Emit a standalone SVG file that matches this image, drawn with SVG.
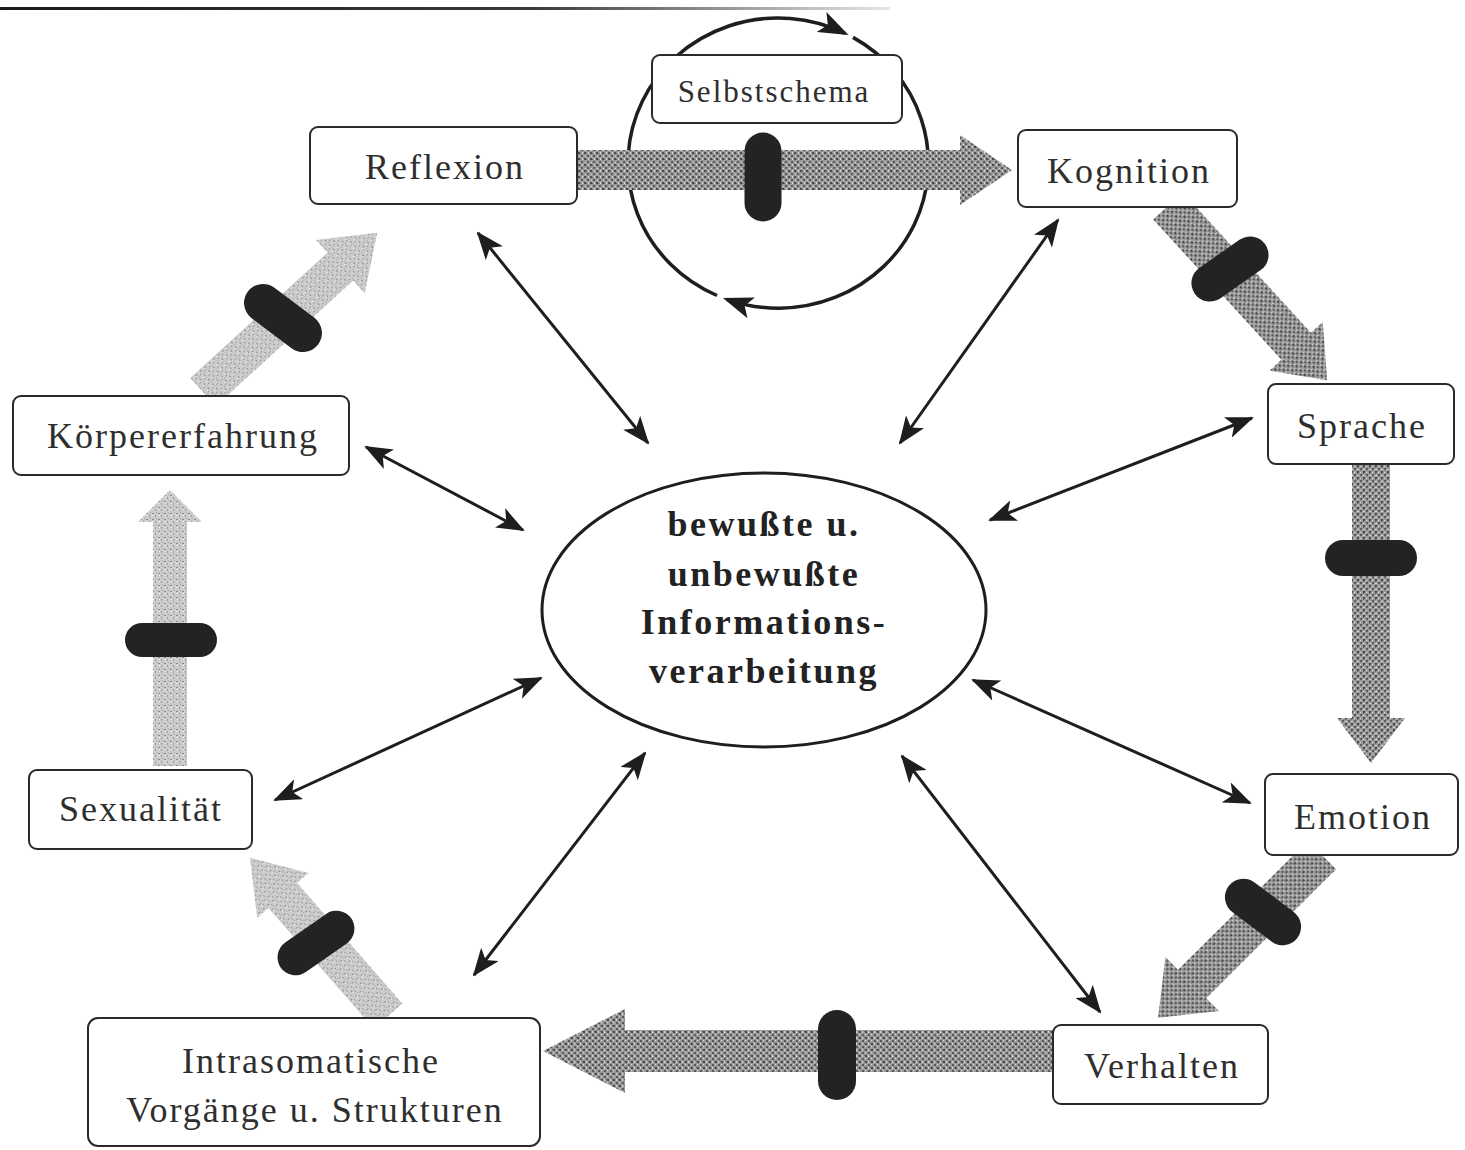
<svg xmlns="http://www.w3.org/2000/svg" width="1465" height="1150" viewBox="0 0 1465 1150">
  <style>
    .box { fill: #ffffff; stroke: #2a2a2a; stroke-width: 2; }
    .lbl { font-family: "Liberation Serif", "Times New Roman", serif; font-size: 36px; fill: #2e2e2e; text-anchor: middle; letter-spacing: 2px; }
    .ctr { font-family: "Liberation Serif", "Times New Roman", serif; font-size: 36px; font-weight: bold; fill: #222; text-anchor: middle; letter-spacing: 2.5px; }
    .thin { stroke: #1e1e1e; stroke-width: 3; fill: none; marker-start: url(#ah); marker-end: url(#ah); }
    .circ { stroke: #1e1e1e; stroke-width: 3.5; fill: none; marker-end: url(#ch); }
    .thickD { fill: url(#stD); }
    .thickL { fill: url(#stL); }
    .pill { fill: #232323; }
  </style>
  <defs>
    <linearGradient id="topLine" x1="0" y1="0" x2="1" y2="0">
      <stop offset="0" stop-color="#1a1a1a"/>
      <stop offset="0.6" stop-color="#3a3a3a"/>
      <stop offset="1" stop-color="#e6e6e6"/>
    </linearGradient>
    <pattern id="stD" width="6" height="6" patternUnits="userSpaceOnUse">
      <rect width="6" height="6" fill="#9a9a9a"/>
      <rect x="0" y="0" width="2" height="2" fill="#4c4c4c"/>
      <rect x="3" y="3" width="2" height="2" fill="#5c5c5c"/>
      <rect x="4" y="0" width="1" height="2" fill="#d6d6d6"/>
      <rect x="1" y="4" width="1" height="1" fill="#e2e2e2"/>
      <rect x="2" y="1" width="1" height="1" fill="#6a6a6a"/>
    </pattern>
    <pattern id="stL" width="6" height="6" patternUnits="userSpaceOnUse">
      <rect width="6" height="6" fill="#cdcdcd"/>
      <rect x="0" y="0" width="1" height="2" fill="#8a8a8a"/>
      <rect x="3" y="3" width="2" height="1" fill="#9a9a9a"/>
      <rect x="4" y="1" width="1" height="1" fill="#eeeeee"/>
      <rect x="1" y="4" width="1" height="1" fill="#a5a5a5"/>
    </pattern>
    <marker id="ah" viewBox="0 0 28 22" refX="26" refY="11" markerWidth="28" markerHeight="22" markerUnits="userSpaceOnUse" orient="auto-start-reverse">
      <path d="M0,0 L28,11 L0,22 L7,11 z" fill="#1e1e1e"/>
    </marker>
    <marker id="ch" viewBox="0 0 30 22" refX="26" refY="11" markerWidth="30" markerHeight="22" markerUnits="userSpaceOnUse" orient="auto">
      <path d="M0,0 L30,11 L0,22 L7,11 z" fill="#1e1e1e"/>
    </marker>
  </defs>

  <rect width="1465" height="1150" fill="#ffffff"/>

  <!-- top rule -->
  <rect x="0" y="7" width="890" height="3" fill="url(#topLine)"/>

  <g id="connectors">
    <!-- Selbstschema cycle -->
    <path class="circ" d="M717,295.5 A150,145 0 1 1 845,33.3"/>
    <path class="circ" d="M853,37.4 A150,145 0 0 1 726.7,299.3"/>

    <!-- thin double-headed arrows -->
    <line class="thin" x1="478" y1="233" x2="648" y2="443"/>
    <line class="thin" x1="1058" y1="220" x2="900" y2="443"/>
    <line class="thin" x1="1252" y1="418" x2="990" y2="520"/>
    <line class="thin" x1="366" y1="447" x2="523" y2="530"/>
    <line class="thin" x1="541" y1="678" x2="275" y2="800"/>
    <line class="thin" x1="973" y1="680" x2="1250" y2="803"/>
    <line class="thin" x1="645" y1="753" x2="474" y2="975"/>
    <line class="thin" x1="902" y1="756" x2="1100" y2="1012"/>

    <!-- thick flow arrows -->
    <polygon class="thickD" transform="translate(578,170)" points="0,-20 382,-20 382,-35 434,0 382,35 382,20 0,20"/>
    <polygon class="thickD" transform="translate(1168,206) rotate(47.6)" points="0,-20 190,-20 190,-36 236,0 190,36 190,20 0,20"/>
    <polygon class="thickD" transform="translate(1371,465) rotate(90)" points="0,-19 253,-19 253,-34 298,0 253,34 253,19 0,19"/>
    <polygon class="thickD" transform="translate(1322,855) rotate(135.2)" points="0,-20 183,-20 183,-38 231,0 183,38 183,20 0,20"/>
    <polygon class="thickD" transform="translate(1053,1051) rotate(180)" points="0,-21 428,-21 428,-42 510,0 428,42 428,21 0,21"/>
    <polygon class="thickL" transform="translate(388,1016) rotate(-131.1)" points="0,-19 160,-19 160,-34 210,0 160,34 160,19 0,19"/>
    <polygon class="thickL" transform="translate(170,766) rotate(-90)" points="0,-17 244,-17 244,-32 276,0 244,32 244,17 0,17"/>
    <polygon class="thickL" transform="translate(203,392) rotate(-42.4)" points="0,-19 186,-19 186,-36 236,0 186,36 186,19 0,19"/>

    <!-- blocking pills -->
    <rect class="pill" x="-18.5" y="-44.5" width="37" height="89" rx="18.5" transform="translate(763,177)"/>
    <rect class="pill" x="-43" y="-18.5" width="86" height="37" rx="18.5" transform="translate(1230,269) rotate(-35)"/>
    <rect class="pill" x="-46" y="-18" width="92" height="36" rx="18" transform="translate(1371,558)"/>
    <rect class="pill" x="-43" y="-18.5" width="86" height="37" rx="18.5" transform="translate(1263,912) rotate(37)"/>
    <rect class="pill" x="-19" y="-45" width="38" height="90" rx="19" transform="translate(837,1055)"/>
    <rect class="pill" x="-43" y="-18" width="86" height="36" rx="18" transform="translate(316,943) rotate(-35)"/>
    <rect class="pill" x="-46" y="-17" width="92" height="34" rx="17" transform="translate(171,640)"/>
    <rect class="pill" x="-44" y="-19" width="88" height="38" rx="19" transform="translate(283,318) rotate(37)"/>
  </g>

  <g id="center">
    <ellipse cx="764" cy="610" rx="222" ry="137" fill="#ffffff" stroke="#1e1e1e" stroke-width="3"/>
    <text class="ctr" x="764" y="536">bewußte u.</text>
    <text class="ctr" x="764" y="586">unbewußte</text>
    <text class="ctr" x="764" y="634">Informations-</text>
    <text class="ctr" x="764" y="683">verarbeitung</text>
  </g>

  <g id="selbstschema">
    <rect class="box" x="652" y="55" width="250" height="68" rx="8"/>
    <text class="lbl" x="774" y="102" style="font-size:31px">Selbstschema</text>
  </g>

  <g id="reflexion">
    <rect class="box" x="310" y="127" width="267" height="77" rx="8"/>
    <text class="lbl" x="445" y="179">Reflexion</text>
  </g>

  <g id="kognition">
    <rect class="box" x="1018" y="130" width="219" height="77" rx="8"/>
    <text class="lbl" x="1129" y="183">Kognition</text>
  </g>

  <g id="sprache">
    <rect class="box" x="1268" y="384" width="186" height="80" rx="8"/>
    <text class="lbl" x="1362" y="438">Sprache</text>
  </g>

  <g id="emotion">
    <rect class="box" x="1265" y="774" width="193" height="81" rx="8"/>
    <text class="lbl" x="1363" y="829">Emotion</text>
  </g>

  <g id="verhalten">
    <rect class="box" x="1053" y="1025" width="215" height="79" rx="8"/>
    <text class="lbl" x="1162" y="1078">Verhalten</text>
  </g>

  <g id="intrasomatische">
    <rect class="box" x="88" y="1018" width="452" height="128" rx="10"/>
    <text class="lbl" x="311" y="1073">Intrasomatische</text>
    <text class="lbl" x="315" y="1122">Vorgänge u. Strukturen</text>
  </g>

  <g id="sexualitaet">
    <rect class="box" x="29" y="770" width="223" height="79" rx="8"/>
    <text class="lbl" x="141" y="821">Sexualität</text>
  </g>

  <g id="koerpererfahrung">
    <rect class="box" x="13" y="396" width="336" height="79" rx="8"/>
    <text class="lbl" x="183" y="448">Körpererfahrung</text>
  </g>
</svg>
